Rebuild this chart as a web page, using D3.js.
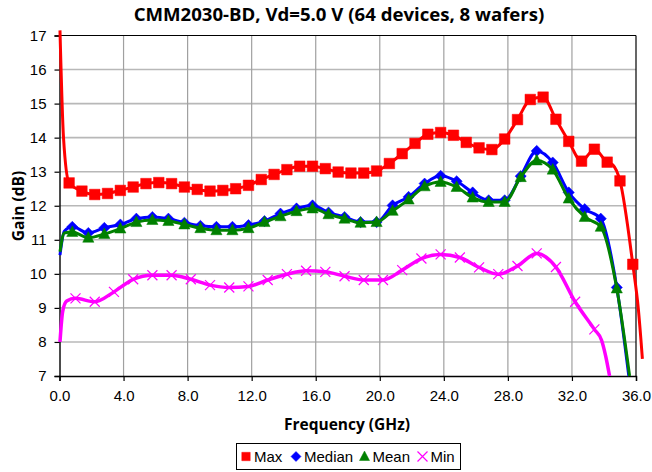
<!DOCTYPE html>
<html><head><meta charset="utf-8">
<script src="https://cdn.jsdelivr.net/npm/d3@7"></script>
<style>body{margin:0;background:#fff}svg{display:block}</style>
</head><body>
<svg id="chart" width="652" height="472"></svg>
<script>
// ---- data ----
const title = "CMM2030-BD, Vd=5.0 V (64 devices, 8 wafers)";
const xLabel = "Frequency (GHz)";
const yLabel = "Gain (dB)";
const xTicks = [0, 4, 8, 12, 16, 20, 24, 28, 32, 36];
const yTicks = [7, 8, 9, 10, 11, 12, 13, 14, 15, 16, 17];
const seriesNames = ["Max", "Median", "Mean", "Min"];

// Max: marker points
const maxF = [0.6,1.4,2.2,3.0,3.8,4.6,5.4,6.2,7.0,7.8,8.6,9.4,10.2,11.0,11.8,12.6,13.4,14.2,15.0,15.8,16.6,17.4,18.2,19.0,19.8,20.6,21.4,22.2,23.0,23.8,24.6,25.4,26.2,27.0,27.8,28.6,29.4,30.2,31.0,31.8,32.6,33.4,34.2,35.0,35.8];
const maxG = [12.67,12.43,12.33,12.36,12.45,12.55,12.65,12.68,12.65,12.55,12.48,12.43,12.45,12.5,12.6,12.77,12.92,13.06,13.16,13.16,13.09,12.99,12.96,12.96,13.02,13.24,13.53,13.83,14.1,14.15,14.07,13.86,13.7,13.65,13.96,14.53,15.12,15.19,14.54,13.89,13.31,13.66,13.28,12.73,10.28];
// Max: extra (unmarked) trace points
const maxExtraF = [0.03, 0.25, 34.55, 36.15, 36.4];
const maxExtraG = [17.15, 14.0, 13.2, 8.95, 7.5];

// Median / Mean: marker points
const medF = [0.8,1.8,2.8,3.8,4.8,5.8,6.8,7.8,8.8,9.8,10.8,11.8,12.8,13.8,14.8,15.8,16.8,17.8,18.8,19.8,20.8,21.8,22.8,23.8,24.8,25.8,26.8,27.8,28.8,29.8,30.8,31.8,32.8,33.8,34.8];
const medG = [11.38,11.2,11.35,11.45,11.62,11.67,11.62,11.5,11.41,11.38,11.38,11.43,11.55,11.77,11.92,12.01,11.8,11.67,11.52,11.52,12.01,12.26,12.65,12.88,12.72,12.39,12.16,12.16,12.87,13.61,13.27,12.39,11.9,11.62,9.6];
const medExtraF = [0.03, 0.3, 35.55];
const medExtraG = [10.55, 11.25, 7.0];

const meanF = medF;
const meanG = [11.23,11.06,11.17,11.33,11.52,11.58,11.55,11.45,11.34,11.28,11.28,11.34,11.52,11.69,11.84,11.92,11.75,11.62,11.5,11.52,11.85,12.18,12.57,12.7,12.55,12.24,12.11,12.11,12.84,13.33,13.06,12.21,11.67,11.38,9.57];
const meanExtraF = [0.03, 0.3, 35.6];
const meanExtraG = [10.65, 11.2, 7.0];

// Min: marker points
const minF = [1.0,2.2,3.4,4.6,5.8,7.0,8.2,9.4,10.6,11.8,13.0,14.2,15.4,16.6,17.8,19.0,20.2,21.4,22.6,23.8,25.0,26.2,27.4,28.6,29.8,31.0,32.2,33.4];
const minG = [9.28,9.18,9.47,9.84,9.96,9.96,9.84,9.67,9.6,9.63,9.82,9.99,10.09,10.06,9.93,9.82,9.82,10.11,10.45,10.57,10.48,10.19,9.99,10.23,10.6,10.2,9.18,8.37];
const minExtraF = [0.03, 0.2, 0.45, 33.85, 34.1, 34.35];
const minExtraG = [8.0, 8.9, 9.2, 8.05, 7.6, 7.0];

// ---- chart ----
const svg = d3.select("#chart");
const L = 59.5, R = 636, T = 35.5, B = 376;
const x = d3.scaleLinear().domain([0, 36]).range([L, R]);
const y = d3.scaleLinear().domain([7, 17]).range([B, T]);
const FONT = "'Liberation Sans', Arial, sans-serif";

// grid
svg.append("g").selectAll("line").data(yTicks.slice(1, -1)).join("line")
  .attr("x1", L).attr("x2", R).attr("y1", d => y(d)).attr("y2", d => y(d))
  .attr("stroke", "#b8b8b8").attr("stroke-width", 1.6);
svg.append("g").selectAll("line").data(xTicks.slice(1, -1)).join("line")
  .attr("y1", T).attr("y2", B).attr("x1", d => x(d)).attr("x2", d => x(d))
  .attr("stroke", "#a0a0a0").attr("stroke-width", 1.2);
// border top/right
svg.append("line").attr("x1", L).attr("x2", R).attr("y1", T).attr("y2", T).attr("stroke", "#000").attr("stroke-width", 1.2);
svg.append("line").attr("x1", R).attr("x2", R).attr("y1", T).attr("y2", B).attr("stroke", "#000").attr("stroke-width", 1.2);

// axes
const yAxis = svg.append("g").attr("transform", `translate(${L},0)`)
  .call(d3.axisLeft(y).tickValues(yTicks).tickSize(5).tickPadding(8).tickFormat(d3.format("d")));
const xAxis = svg.append("g").attr("transform", `translate(0,${B})`)
  .call(d3.axisBottom(x).tickValues(xTicks).tickSize(5).tickPadding(9).tickFormat(d3.format(".1f")));
[yAxis, xAxis].forEach(g => {
  g.select(".domain").attr("stroke", "#000").attr("stroke-width", 1.4);
  g.selectAll(".tick line").attr("stroke", "#000").attr("stroke-width", 1.2);
  g.selectAll("text").attr("font-family", FONT).attr("font-size", 15).attr("fill", "#000");
});

const zip = (f, g) => f.map((v, i) => [v, g[i]]);
const line = d3.line().x(d => x(d[0])).y(d => y(d[1])).curve(d3.curveMonotoneX);

const sq = s => `M${-s},${-s}H${s}V${s}H${-s}Z`;
const dia = s => `M0,${-s}L${s},0L0,${s}L${-s},0Z`;
const tri = s => `M0,${-s*1.1}L${s},${s*0.8}L${-s},${s*0.8}Z`;
const cross = s => `M${-s},${-s}L${s},${s}M${-s},${s}L${s},${-s}`;

const series = [
  {name: seriesNames[0], color: "#FF0000", mk: zip(maxF, maxG), ex: zip(maxExtraF, maxExtraG), shape: sq, size: 5.3, legSize: 4.2, fill: true},
  {name: seriesNames[1], color: "#0000FF", mk: zip(medF, medG), ex: zip(medExtraF, medExtraG), shape: dia, size: 5.6, legSize: 5, fill: true},
  {name: seriesNames[2], color: "#008000", mk: zip(meanF, meanG), ex: zip(meanExtraF, meanExtraG), shape: tri, size: 5.6, legSize: 5, fill: true},
  {name: seriesNames[3], color: "#FF00FF", mk: zip(minF, minG), ex: zip(minExtraF, minExtraG), shape: cross, size: 5, legSize: 5, fill: false},
];

series.forEach(s => {
  const pts = s.mk.concat(s.ex).sort((a, b) => a[0] - b[0]);
  svg.append("path").attr("d", line(pts)).attr("fill", "none")
    .attr("stroke", s.color).attr("stroke-width", s.fill ? 3 : 3.5).attr("stroke-linejoin", "round");
  svg.append("g").selectAll("path").data(s.mk).join("path")
    .attr("transform", d => `translate(${x(d[0])},${y(d[1])})`)
    .attr("d", s.shape(s.size))
    .attr("fill", s.fill ? s.color : "none")
    .attr("stroke", s.color).attr("stroke-width", s.fill ? 0.5 : 1.2);
});

// title & axis titles
svg.append("text").attr("x", 339).attr("y", 21).attr("text-anchor", "middle")
  .attr("font-family", "'Open Sans', sans-serif").attr("font-weight", "bold").attr("font-size", 18.6)
  .text(title);
svg.append("text").attr("x", 347).attr("y", 430).attr("text-anchor", "middle")
  .attr("font-family", "'Open Sans', sans-serif").attr("font-weight", "bold").attr("font-size", 15.5)
  .text(xLabel);
svg.append("text").attr("transform", "translate(24,206) rotate(-90)").attr("text-anchor", "middle")
  .attr("font-family", "'Open Sans', sans-serif").attr("font-weight", "bold").attr("font-size", 15.5)
  .text(yLabel);

// legend
const lg = svg.append("g");
lg.append("rect").attr("x", 236.5).attr("y", 443.5).attr("width", 224).attr("height", 26)
  .attr("fill", "#fff").attr("stroke", "#000").attr("stroke-width", 1);
const legX = [246, 296, 364.5, 422.5];
series.forEach((s, i) => {
  lg.append("path").attr("transform", `translate(${legX[i]},456.5)`).attr("d", s.shape(s.legSize))
    .attr("fill", s.fill ? s.color : "none").attr("stroke", s.color).attr("stroke-width", s.fill ? 0.5 : 1.2);
  lg.append("text").attr("x", legX[i] + 8).attr("y", 462).attr("font-family", FONT).attr("font-size", 15)
    .text(s.name);
});
</script>
</body></html>
